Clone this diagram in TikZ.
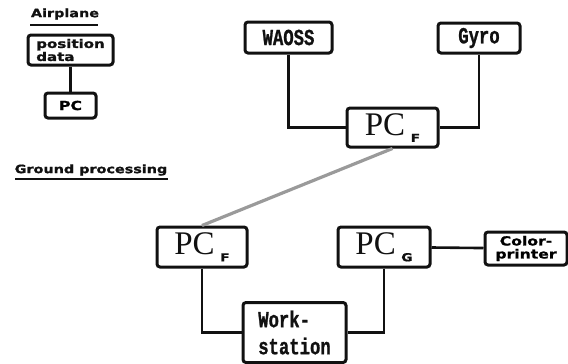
\documentclass[tikz,border=0pt]{standalone}
\usepackage{fontspec}
\usepackage{xcolor}
\usepackage{tikz}
\usetikzlibrary{positioning,calc}
\setmainfont{Liberation Serif}
\newfontfamily\widefont[FakeStretch=1.25,FakeBold=1.2]{DejaVu Sans Bold}
\newfontfamily\plotfont[FakeStretch=0.75,FakeBold=1]{Liberation Mono Bold}
\definecolor{ink}{HTML}{111111}
\definecolor{link}{HTML}{9A9A9A}
\newcommand{\subidx}[1]{\,\raisebox{-0.45ex}{\widefont\fontsize{11}{11}\selectfont #1}}
\tikzset{
  unit/.style     = {draw=ink, line width=3pt, rounded corners=3pt, inner sep=0pt, align=center},
  pcbig/.style    = {unit, font=\fontsize{33}{33}\selectfont\color{ink}},
  plotlab/.style  = {unit, font=\fontsize{23}{27}\selectfont\plotfont\color{ink}},
  widelab/.style  = {unit, font=\fontsize{12}{13}\selectfont\widefont\color{ink}},
  headlab/.style  = {font=\fontsize{11.5}{13}\selectfont\widefont\color{ink}, inner sep=0pt, outer sep=0pt},
  wire/.style     = {draw=ink, line width=2.6pt},
  radiolink/.style= {draw=link, line width=3.2pt},
}
\begin{document}
\begin{tikzpicture}[x=1pt,y=-1pt]
\path[use as bounding box] (0,0) rectangle (568,364);

% ---- airplane ------------------------------------------------------------
\node[headlab] (airplane) at (65,14) {Airplane};
\draw[ink, line width=1.4pt] (30,25) -- (98,25);
\node[widelab, minimum width=85pt, minimum height=30pt, align=left] (posdata) at (70.5,50)
  {position\\data\hspace{2.9em}};
\node[widelab, font=\fontsize{12.5}{12.5}\selectfont\widefont, minimum width=51pt, minimum height=25pt] (pcair) at (70.5,105.5) {PC};
\draw[wire] (posdata) -- (pcair);

% ---- on board ------------------------------------------------------------
\node[plotlab, minimum width=87pt, minimum height=31pt] (waoss) at (288.5,37.5) {WAOSS};
\node[plotlab, minimum width=82pt, minimum height=30pt] (gyro)  at (479,38) {Gyro};
\node[pcbig, minimum width=91pt, minimum height=39pt] (pcfair) at (392.5,127.5) {PC\subidx{F}};
\draw[wire] (waoss) |- (pcfair);
\draw[wire] (gyro)  |- (pcfair);

% ---- ground processing ---------------------------------------------------
\node[headlab] (ground) at (91,170) {Ground processing};
\draw[ink, line width=1.4pt] (15,179) -- (168,179);

\node[pcbig, minimum width=90pt, minimum height=40pt] (pcfgnd) at (202,247) {PC\subidx{F}};
\node[pcbig, minimum width=92pt, minimum height=40pt] (pcg)    at (384,247) {PC\subidx{G}};
\node[widelab, font=\fontsize{12.5}{13}\selectfont\widefont, minimum width=82pt, minimum height=33pt] (printer) at (526,248.5) {Color-\\printer};
\node[plotlab, minimum width=103pt, minimum height=60pt, align=left] (work) at (294.5,332.5) {Work-\\station};

% data carried from the aircraft PC to the ground PC
\draw[radiolink] (pcfair.south) -- (pcfgnd.north);
\draw[wire] (pcfgnd) |- (work);
\draw[wire] (pcg) |- (work);
\draw[wire] (pcg) -- (printer);

\end{tikzpicture}
\end{document}
